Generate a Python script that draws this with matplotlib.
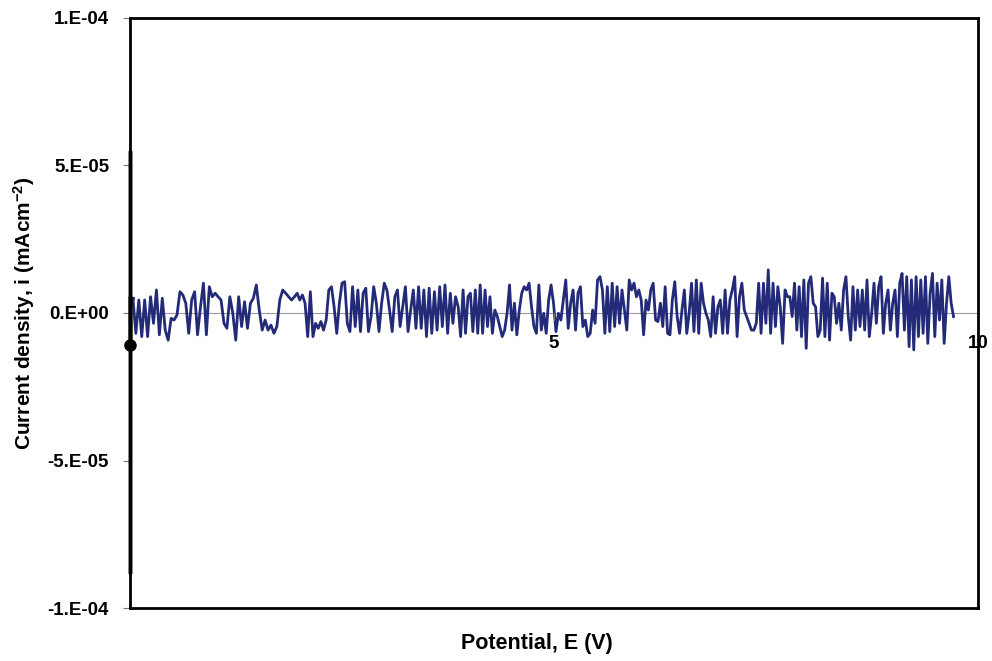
import matplotlib
matplotlib.use("Agg")
import matplotlib.pyplot as plt
import numpy as np

plt.rcParams['font.family'] = ['Liberation Sans', 'DejaVu Sans']
plt.rcParams['mathtext.fontset'] = 'custom'
plt.rcParams['mathtext.bf'] = 'Liberation Sans:bold'

# current density readings in units of 1e-6 mA/cm2, split by potential window
seg1_range = (0.035, 1.94)
seg1 = [5.0, -6.9, 4.4, -8.0, 4.4, -8.0, 5.5, -3.5, 7.8, -7.4, 5.0, -5.8, -9.2, -1.8,
        -2.4, -0.7, 7.2, 6.1, 3.3, -6.9, 4.4, 7.2, -7.4, 2.1, 10.1, -7.4, 8.9, 5.5, 6.7,
        5.5, 4.4, -3.5, -5.2, 5.5, -0.1, -9.2, 5.5, -4.6, 3.8, -5.2, 3.3, 5.0, 9.5, 1.0,
        -5.8, -2.4, -5.8, -4.1, -6.9, -4.6, 4.4, 7.8, 6.7, 5.5, 4.4]
seg2_range = (1.94, 3.87)
seg2 = [5.5, 6.7, 4.4, 6.1, 3.3, -8.0, 7.2, -8.0, -3.5, -5.2, -2.9, -5.8, -2.4, 7.8,
        8.9, 2.1, -6.9, 3.3, 10.1, 10.6, -3.5, -6.3, 8.9, -4.6, 7.8, -6.3, 6.7, 8.4,
        -6.3, -1.2, 8.9, 3.3, -6.3, 3.3, 10.1, 7.8, 1.0, -6.3, 5.5, 7.8, -4.6, 2.1, 8.9,
        -6.3, 1.0, 7.8, -5.2, 8.9, -5.2, 7.8, -8.0, 8.4, -6.9, 7.2, -5.8, 8.9, -4.6, 9.5,
        -6.9, 6.7, -3.5, 5.5]
seg3_range = (3.87, 5.83)
seg3 = [2.1, -8.0, 7.8, -6.9, 5.5, 6.7, -6.3, 7.8, -6.9, 9.5, -6.9, 7.8, -4.6, 5.5,
        -6.9, 1.0, -1.2, -4.6, -8.0, -5.8, -0.1, 9.5, -5.8, 3.3, -7.4, 1.0, 6.7, 8.9,
        7.8, 10.1, 2.1, -4.6, -6.9, 9.5, -5.8, -0.1, -6.9, 4.4, 9.5, 3.3, -6.3, -0.1,
        -2.4, 4.4, 11.2, -5.2, 3.3, 7.8, -5.8, 6.7, 8.9, -4.6, -2.4, -8.0, -6.9, 1.0,
        -3.5, 11.2, 12.3, 7.8, -6.9, 8.9, -6.3, 10.1, -4.6, 8.9, -3.5, 7.8]
seg4_range = (5.83, 7.78)
seg4 = [1.0, -5.8, 11.2, 7.8, 10.1, 5.5, 7.8, 4.4, -7.4, 4.4, 1.0, 7.8, 10.1, -2.4,
        -2.9, 3.3, -4.6, 8.9, -6.9, -7.4, 4.4, 10.6, -1.2, -6.9, 1.0, 7.8, -6.9, -0.1,
        10.1, -6.3, 11.2, -6.9, 10.1, 3.3, -0.1, -2.4, -8.0, 5.5, -6.9, 2.1, 4.4, -6.9,
        7.8, -6.9, 4.4, 7.8, 12.3, -8.0, 5.5, 10.1, 1.0, -1.2, -3.5, -5.8, -5.8, -3.5,
        10.1, -6.9, 10.1, -3.5, 14.6, -6.9, 10.1, -4.6, 8.9, 2.1, -10.3, 7.8, 5.5]
seg5_range = (7.78, 9.71)
seg5 = [5.5, -1.2, 10.1, -5.8, 8.9, -8.0, 11.2, -12.0, 10.1, 12.3, 3.3, 2.1, -8.0,
        -5.8, 11.8, -8.0, 10.1, -9.2, 6.7, 5.5, -3.5, 3.3, -5.8, 7.8, 12.3, -1.2, -9.2,
        8.9, -5.8, 7.8, -4.6, 7.8, -5.8, 11.2, -8.0, -0.1, 10.1, -3.5, 8.9, 12.3, -6.9,
        3.3, 7.8, -5.8, 3.3, 7.8, -8.0, 10.1, 13.4, -5.8, 12.3, -11.4, 11.2, -12.5, 12.3,
        -8.0, 11.2, -6.9, 12.3, -10.3, 6.7, 13.4, -8.0, 10.1, -2.4, 11.2, -10.3, 3.3,
        12.3, 3.3, -1.2]

# start of the sweep at 0 V
lead_current = [-11, 55, -88, -11, 5.0]

segments = [(seg1_range, seg1), (seg2_range, seg2), (seg3_range, seg3),
            (seg4_range, seg4), (seg5_range, seg5)]
potential = []
current = []
for i, (rng, vals) in enumerate(segments):
    last = i == len(segments) - 1
    potential.extend(np.linspace(rng[0], rng[1], len(vals), endpoint=last))
    current.extend(vals)
potential = np.array(potential)
current = np.array(current) * 1e-6

yticks = [1e-4, 5e-5, 0, -5e-5, -1e-4]
ytick_labels = ['1.E-04', '5.E-05', '0.E+00', '-5.E-05', '-1.E-04']
xticks = [5, 10]

fig = plt.figure(figsize=(9.92, 6.61), dpi=100)
ax = fig.add_axes([0.131, 0.080, 0.855, 0.893])

ax.axhline(0, color='#9a9a9a', lw=0.8, zorder=1)
ax.plot(np.zeros(len(lead_current)), np.array(lead_current) * 1e-6,
        color='black', lw=2.5, zorder=3, clip_on=False)
ax.plot([0, potential[0]], [lead_current[-1] * 1e-6, current[0]], color='#232a78', lw=2)
ax.plot(potential, current, color='#232a78', lw=2, zorder=2)
ax.plot([0], [lead_current[0] * 1e-6], 'o', color='black', ms=8, zorder=4, clip_on=False)

ax.set_xlim(0, 10)
ax.set_ylim(-1e-4, 1e-4)
ax.set_yticks(yticks)
ax.set_yticklabels(ytick_labels, fontsize=13.5, fontweight='bold')
ax.tick_params(axis='y', direction='out', length=5, width=0.8, color='#777777', pad=10)
ax.set_xticks([])
for xv in xticks:
    ax.annotate(str(xv), (xv, 0), xytext=(0, -22), textcoords='offset points',
                ha='center', va='center', fontsize=13.5, fontweight='bold')
    ax.plot([xv, xv], [0, -2.5e-6], color='#777777', lw=0.8)

for side in ['top', 'bottom', 'left', 'right']:
    ax.spines[side].set_linewidth(2)
    ax.spines[side].set_color('black')

ax.set_ylabel(r'Current density, i (mAcm$\mathbf{^{-2}}$)', fontsize=15,
              fontweight='bold')
ax.set_xlabel('Potential, E (V)', fontsize=15.5, fontweight='bold')
ax.yaxis.set_label_coords(-0.11, 0.5)
ax.xaxis.set_label_coords(0.48, -0.042)

fig.savefig('out.png', dpi=100)
